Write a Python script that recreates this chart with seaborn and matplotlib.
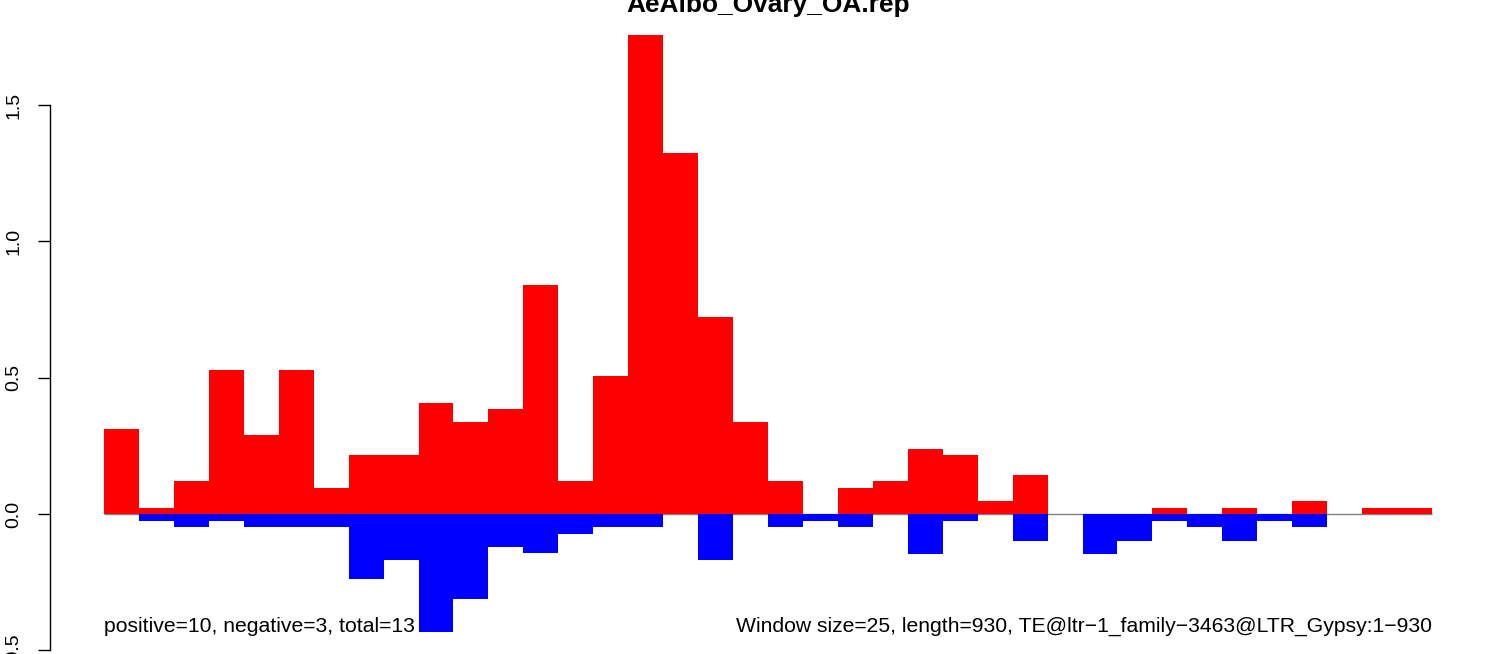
import matplotlib
matplotlib.use("Agg")
import matplotlib.pyplot as plt
import seaborn as sns
import pandas as pd

# ---- data ----
windows = list(range(1, 39))
positive = [0.311, 0.022, 0.121, 0.527, 0.289, 0.527, 0.096, 0.217, 0.217, 0.407,
            0.337, 0.386, 0.839, 0.121, 0.505, 1.755, 1.322, 0.722, 0.337, 0.121,
            0.0, 0.096, 0.121, 0.238, 0.216, 0.048, 0.143, 0.0, 0.0, 0.0,
            0.022, 0.0, 0.022, 0.0, 0.048, 0.0, 0.022, 0.022]
negative = [0.0, -0.024, -0.048, -0.024, -0.048, -0.048, -0.048, -0.240, -0.167, -0.433,
            -0.310, -0.120, -0.143, -0.072, -0.048, -0.048, 0.0, -0.167, 0.0, -0.048,
            -0.024, -0.048, 0.0, -0.145, -0.024, 0.0, -0.098, 0.0, -0.145, -0.098,
            -0.024, -0.048, -0.098, -0.024, -0.048, 0.0, 0.0, 0.0]
yticks = [-0.5, 0.0, 0.5, 1.0, 1.5]
ytick_labels = ["-0.5", "0.0", "0.5", "1.0", "1.5"]
title = "AeAlbo_Ovary_OA.rep"
left_note = "positive=10, negative=3, total=13"
right_note = "Window size=25, length=930, TE@ltr\u22121_family\u22123463@LTR_Gypsy:1\u2212930"

df = pd.DataFrame({"window": windows, "positive": positive, "negative": negative})

sns.set_style("white")
plt.rcParams["font.family"] = ["Liberation Sans", "DejaVu Sans"]
plt.rcParams["text.color"] = "black"
plt.rcParams["ytick.color"] = "black"
plt.rcParams["ytick.labelcolor"] = "black"

W, H = 1490, 654
fig = plt.figure(figsize=(W / 100, H / 100), dpi=100)
ax = fig.add_axes([50 / W, 0, (1440 - 50) / W, 1])

ax.hlines(0, -0.5, len(windows) - 0.5, color="#808080", lw=1, zorder=0)
sns.barplot(data=df, x="window", y="positive", color="#FF0000", saturation=1,
            width=1, linewidth=0, errorbar=None, ax=ax, zorder=2)
sns.barplot(data=df, x="window", y="negative", color="#0000FF", saturation=1,
            width=1, linewidth=0, errorbar=None, ax=ax, zorder=2)
for p in ax.patches:
    p.set_antialiased(False)

pxu = 1328 / 38.0
ax.set_xlim(-0.5 - (104 - 50) / pxu, 37.5 + (1440 - 1432) / pxu)
ax.set_ylim(-(H - 514) / 272.7, 514 / 272.7)

ax.set_xlabel("")
ax.set_ylabel("")
ax.set_xticks([])
for s in ["top", "right", "bottom"]:
    ax.spines[s].set_visible(False)
ax.spines["left"].set_bounds(-0.5, 1.5)
ax.spines["left"].set_color("black")
ax.spines["left"].set_linewidth(1)
ax.set_yticks(yticks)
ax.set_yticklabels(ytick_labels, rotation=90, va="center", color="black")
ax.tick_params(axis="y", direction="out", length=9, width=1, color="black",
               labelsize=14, pad=11, left=True, labelcolor="black")

ax.text(-0.5, -0.4316, left_note, ha="left", va="baseline", fontsize=15.25,
        color="black", zorder=1)
ax.text(37.5, -0.4316, right_note, ha="right", va="baseline", fontsize=15.25,
        color="black", zorder=1)

fig.text(768 / W, 1 - 12 / H, title, ha="center", va="baseline",
         fontsize=18.9, fontweight="bold", color="black")

fig.savefig("out.png", dpi=100)
